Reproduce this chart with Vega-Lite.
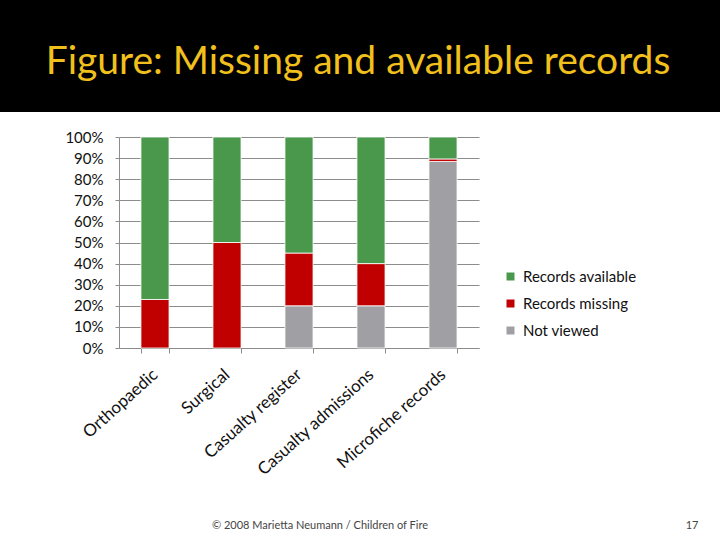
{
  "$schema": "https://vega.github.io/schema/vega-lite/v6.json",
  "padding": 0,
  "spacing": 18,
  "background": "white",
  "resolve": {"scale": {"color": "independent"}, "legend": {"color": "independent"}},
  "config": {"view": {"stroke": null}, "font": "Lato"},
  "vconcat": [
    {
      "width": 720,
      "height": 112,
      "view": {"fill": "black", "stroke": null},
      "data": {"values": [{"heading": "Figure: Missing and available records"}]},
      "mark": {"type": "text", "font": "Lato", "fontSize": 39, "color": "#F2C01C", "baseline": "middle", "dy": 6, "dx": -2},
      "encoding": {"text": {"field": "heading"}}
    },
    {
      "spacing": 58,
      "resolve": {"scale": {"color": "independent"}, "legend": {"color": "independent"}},
      "hconcat": [
        {
          "width": 1,
          "height": 211,
          "data": {"values": [{"blank": ""}]},
          "mark": {"type": "text"},
          "encoding": {"text": {"field": "blank"}}
        },
        {
          "width": 360,
          "height": 211,
          "data": {
            "values": [
              {"category": "Orthopaedic", "series": "Records missing", "value": 23},
              {"category": "Orthopaedic", "series": "Records available", "value": 77},
              {"category": "Surgical", "series": "Records missing", "value": 50},
              {"category": "Surgical", "series": "Records available", "value": 50},
              {"category": "Casualty register", "series": "Not viewed", "value": 20},
              {"category": "Casualty register", "series": "Records missing", "value": 25},
              {"category": "Casualty register", "series": "Records available", "value": 55},
              {"category": "Casualty admissions", "series": "Not viewed", "value": 20},
              {"category": "Casualty admissions", "series": "Records missing", "value": 20},
              {"category": "Casualty admissions", "series": "Records available", "value": 60},
              {"category": "Microfiche records", "series": "Not viewed", "value": 88.4},
              {"category": "Microfiche records", "series": "Records missing", "value": 1.2},
              {"category": "Microfiche records", "series": "Records available", "value": 10.4}
            ]
          },
          "transform": [
            {"calculate": "indexof(['Not viewed', 'Records missing', 'Records available'], datum.series)", "as": "stackOrder"}
          ],
          "mark": {"type": "bar", "stroke": "#FFFFFF", "strokeWidth": 0.8},
          "encoding": {
            "x": {
              "field": "category",
              "type": "nominal",
              "sort": null,
              "scale": {"paddingInner": 0.61, "paddingOuter": 0.305},
              "axis": {
                "title": null,
                "labelAngle": -42,
                "labelAlign": "right",
                "labelBaseline": "middle",
                "labelFontSize": 17,
                "labelColor": "#111111",
                "labelPadding": 19,
                "tickBand": "extent",
                "tickSize": 5,
                "tickColor": "#8C8C8C",
                "domainColor": "#8C8C8C",
                "grid": false
              }
            },
            "y": {
              "field": "value",
              "type": "quantitative",
              "stack": true,
              "scale": {"domain": [0, 100], "nice": false},
              "axis": {
                "title": null,
                "values": [0, 10, 20, 30, 40, 50, 60, 70, 80, 90, 100],
                "labelExpr": "datum.value + '%'",
                "labelFontSize": 15,
                "labelColor": "#111111",
                "labelPadding": 12,
                "tickSize": 4,
                "tickColor": "#8C8C8C",
                "domainColor": "#8C8C8C",
                "gridColor": "#8C8C8C",
                "gridOpacity": 1,
                "minExtent": 60
              }
            },
            "color": {
              "field": "series",
              "type": "nominal",
              "scale": {
                "domain": ["Records available", "Records missing", "Not viewed"],
                "range": ["#4A984C", "#C00000", "#A0A0A4"]
              },
              "legend": {
                "title": null,
                "orient": "none",
                "legendX": 384,
                "legendY": 132,
                "padding": 0,
                "symbolType": "square",
                "symbolSize": 64,
                "symbolStrokeWidth": 0,
                "labelFontSize": 15,
                "labelColor": "#111111",
                "labelOffset": 5,
                "rowPadding": 11
              }
            },
            "order": {"field": "stackOrder", "type": "quantitative"}
          }
        }
      ]
    },
    {
      "width": 720,
      "height": 58,
      "layer": [
        {
          "data": {"values": [{"note": "© 2008 Marietta Neumann / Children of Fire"}]},
          "mark": {"type": "text", "fontSize": 11, "color": "#444444", "dx": -40, "baseline": "middle"},
          "encoding": {"text": {"field": "note"}}
        },
        {
          "data": {"values": [{"page": "17"}]},
          "mark": {"type": "text", "fontSize": 11, "color": "#444444", "dx": 332, "baseline": "middle"},
          "encoding": {"text": {"field": "page"}}
        }
      ]
    }
  ]
}
